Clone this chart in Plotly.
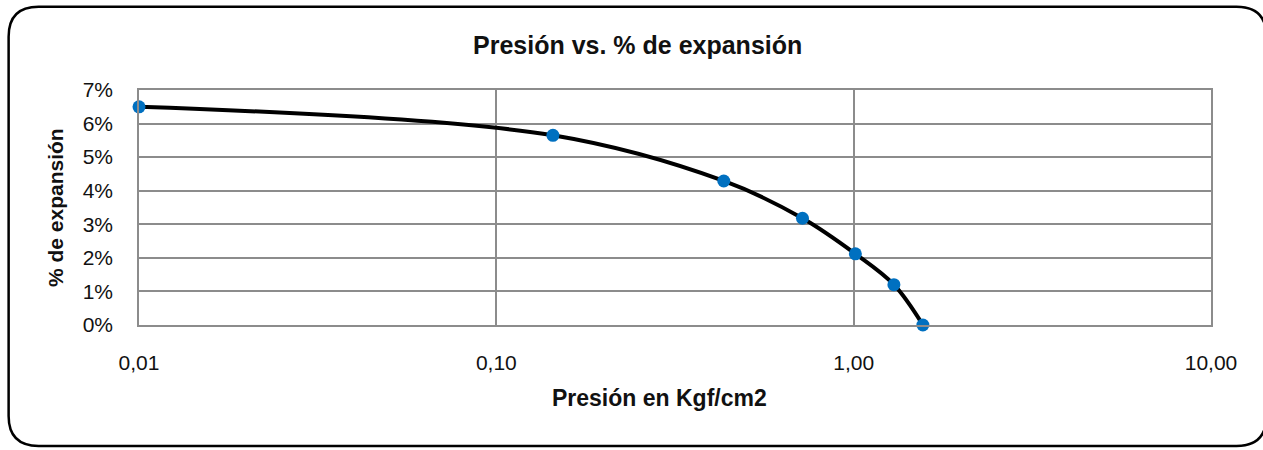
import plotly.graph_objects as go

# Presión aplicada (Kgf/cm2) y expansión medida
presion = [0.01, 0.144, 0.433, 0.719, 1.011, 1.296, 1.562]
expansion = [0.065, 0.0565, 0.0429, 0.0318, 0.0212, 0.012, 0.0]

x_ticks = [0.01, 0.1, 1, 10]

W, H = 1263, 450
L, R, T, B = 138.5, 51.5, 89.5, 124.5
PW, PH = W - L - R, H - T - B


def px(x):
    return (x - L) / PW


def py(y):
    return (H - B - y) / PH


FONT = "Arial, 'Liberation Sans', sans-serif"

fig = go.Figure()
fig.add_trace(go.Scatter(
    x=presion, y=expansion, mode="lines+markers",
    line=dict(color="black", width=4, shape="spline", smoothing=1.0),
    marker=dict(color="#0070C0", size=13),
    showlegend=False, cliponaxis=False,
))

grid = "#8c8c8c"
fig.update_xaxes(
    type="log", range=[-2, 1], tickvals=x_ticks, tickformat=".2f",
    showgrid=True, gridcolor=grid, gridwidth=1.5,
    showline=True, linecolor=grid, linewidth=1.5, mirror=True,
    ticks="outside", ticklen=18, tickcolor="rgba(0,0,0,0)",
    tickfont=dict(family=FONT, size=21, color="#111"), zeroline=False,
)
fig.update_yaxes(
    range=[0, 0.07], dtick=0.01, tickformat=".0%",
    showgrid=True, gridcolor=grid, gridwidth=1.5,
    showline=True, linecolor=grid, linewidth=1.5, mirror=True,
    ticks="outside", ticklen=20, tickcolor="rgba(0,0,0,0)",
    tickfont=dict(family=FONT, size=21, color="#111"), zeroline=False,
)

# Marco redondeado del gráfico (el borde derecho queda fuera del lienzo)
x0, y0, x1, y1, r = 8, 6, 1267, 447, 30
path = (
    f"M {px(x0 + r)},{py(y0)} L {px(x1 - r)},{py(y0)} "
    f"Q {px(x1)},{py(y0)} {px(x1)},{py(y0 + r)} "
    f"L {px(x1)},{py(y1 - r)} Q {px(x1)},{py(y1)} {px(x1 - r)},{py(y1)} "
    f"L {px(x0 + r)},{py(y1)} Q {px(x0)},{py(y1)} {px(x0)},{py(y1 - r)} "
    f"L {px(x0)},{py(y0 + r)} Q {px(x0)},{py(y0)} {px(x0 + r)},{py(y0)} Z"
)
fig.add_shape(type="path", path=path, xref="paper", yref="paper",
              line=dict(color="black", width=2.5), layer="below")

ann = dict(xref="paper", yref="paper", showarrow=False,
           xanchor="center", yanchor="middle")
fig.add_annotation(text="<b>Presión vs. % de expansión</b>",
                   x=px(637.5), y=py(44),
                   font=dict(family=FONT, size=25, color="#111"), **ann)
fig.add_annotation(text="<b>Presión en Kgf/cm2</b>",
                   x=px(659.5), y=py(399),
                   font=dict(family=FONT, size=23, color="#111"), **ann)
fig.add_annotation(text="<b>% de expansión</b>",
                   x=px(55), y=py(207.5), textangle=-90,
                   font=dict(family=FONT, size=21, color="#111"), **ann)

fig.update_layout(
    width=W, height=H, separators=",.",
    margin=dict(l=L, r=R, t=T, b=B, pad=0, autoexpand=False),
    paper_bgcolor="white", plot_bgcolor="white",
)

fig.write_html("out.html")
